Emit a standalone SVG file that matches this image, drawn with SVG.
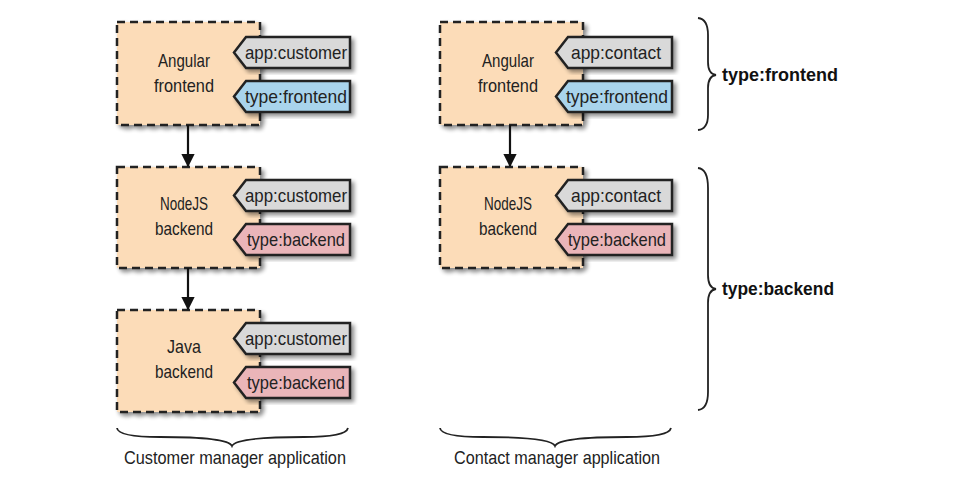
<svg xmlns="http://www.w3.org/2000/svg" width="955" height="487" viewBox="0 0 955 487">
<defs>
<filter id="sh" x="-20%" y="-20%" width="140%" height="140%"><feGaussianBlur in="SourceAlpha" stdDeviation="2"/><feOffset dx="3" dy="3"/><feComponentTransfer><feFuncA type="linear" slope="0.45"/></feComponentTransfer><feMerge><feMergeNode/><feMergeNode in="SourceGraphic"/></feMerge></filter>
<marker id="ar" viewBox="0 0 10 10" refX="9" refY="5" markerWidth="6" markerHeight="6" orient="auto"><path d="M0,0 L10,5 L0,10 Z" fill="#111"/></marker>
<path id="tag" d="M12,0 H116 V31 H12 L0,15.5 Z"/>
</defs>
<style>
.box{fill:#fcdcb8;stroke:#222;stroke-width:2.5;stroke-dasharray:8,5;filter:url(#sh)}
.t{font-family:"Liberation Sans",Arial,sans-serif;font-size:19px;fill:#222;text-anchor:middle}
.tg{font-family:"Liberation Sans",Arial,sans-serif;font-size:19px;fill:#222;text-anchor:middle}
.b{font-family:"Liberation Sans",Arial,sans-serif;font-size:18px;font-weight:bold;fill:#111}
.app{fill:#d9d9d9;stroke:#222;stroke-width:2.5;filter:url(#sh)}
.fe{fill:#a9d4ec;stroke:#222;stroke-width:2.5;filter:url(#sh)}
.be{fill:#eab5b9;stroke:#222;stroke-width:2.5;filter:url(#sh)}
.br{fill:none;stroke:#222;stroke-width:1.8}
</style>
<g id="n1"><rect class="box" x="117" y="22" width="143" height="103"/><text class="t" x="184" y="67" textLength="52" lengthAdjust="spacingAndGlyphs">Angular</text><text class="t" x="184" y="92" textLength="60" lengthAdjust="spacingAndGlyphs">frontend</text>
<use href="#tag" class="app" x="234" y="37"/><text class="tg" x="296" y="59" textLength="102" lengthAdjust="spacingAndGlyphs">app:customer</text>
<use href="#tag" class="fe" x="234" y="81"/><text class="tg" x="296" y="103" textLength="102" lengthAdjust="spacingAndGlyphs">type:frontend</text></g>
<g id="n2"><rect class="box" x="117" y="167" width="143" height="101"/><text class="t" x="184" y="210" textLength="48" lengthAdjust="spacingAndGlyphs">NodeJS</text><text class="t" x="184" y="235" textLength="58" lengthAdjust="spacingAndGlyphs">backend</text>
<use href="#tag" class="app" x="234" y="180"/><text class="tg" x="296" y="202" textLength="102" lengthAdjust="spacingAndGlyphs">app:customer</text>
<use href="#tag" class="be" x="234" y="224"/><text class="tg" x="296" y="246" textLength="98" lengthAdjust="spacingAndGlyphs">type:backend</text></g>
<g id="n3"><rect class="box" x="117" y="310" width="143" height="102"/><text class="t" x="184" y="353" textLength="34" lengthAdjust="spacingAndGlyphs">Java</text><text class="t" x="184" y="378" textLength="58" lengthAdjust="spacingAndGlyphs">backend</text>
<use href="#tag" class="app" x="234" y="323"/><text class="tg" x="296" y="345" textLength="102" lengthAdjust="spacingAndGlyphs">app:customer</text>
<use href="#tag" class="be" x="234" y="367"/><text class="tg" x="296" y="389" textLength="98" lengthAdjust="spacingAndGlyphs">type:backend</text></g>
<g id="n4"><rect class="box" x="440" y="22" width="143" height="103"/><text class="t" x="508" y="67" textLength="52" lengthAdjust="spacingAndGlyphs">Angular</text><text class="t" x="508" y="92" textLength="60" lengthAdjust="spacingAndGlyphs">frontend</text>
<use href="#tag" class="app" x="556" y="37"/><text class="tg" x="616" y="59" textLength="90" lengthAdjust="spacingAndGlyphs">app:contact</text>
<use href="#tag" class="fe" x="556" y="81"/><text class="tg" x="617" y="103" textLength="102" lengthAdjust="spacingAndGlyphs">type:frontend</text></g>
<g id="n5"><rect class="box" x="440" y="167" width="143" height="101"/><text class="t" x="508" y="210" textLength="48" lengthAdjust="spacingAndGlyphs">NodeJS</text><text class="t" x="508" y="235" textLength="58" lengthAdjust="spacingAndGlyphs">backend</text>
<use href="#tag" class="app" x="556" y="180"/><text class="tg" x="616" y="202" textLength="90" lengthAdjust="spacingAndGlyphs">app:contact</text>
<use href="#tag" class="be" x="556" y="224"/><text class="tg" x="617" y="246" textLength="98" lengthAdjust="spacingAndGlyphs">type:backend</text></g>
<g id="connectors" stroke="#111" stroke-width="2.2" fill="none">
<line x1="188" y1="125" x2="188" y2="166" marker-end="url(#ar)"/>
<line x1="188" y1="268" x2="188" y2="309" marker-end="url(#ar)"/>
<line x1="510" y1="125" x2="510" y2="166" marker-end="url(#ar)"/>
</g>
<g id="braces">
<path class="br" d="M117,428 Q118,437 160,437 Q228,437 232,446 Q236,437 304,437 Q346,437 348,428"/>
<path class="br" d="M440,428 Q441,437 483,437 Q551,437 555,446 Q559,437 627,437 Q669,437 671,428"/>
<path class="br" d="M698,18 Q708,19 708,35 V62 Q708,74 716,75 Q708,76 708,88 V115 Q708,129 698,130"/>
<path class="br" d="M698,168 Q708,169 708,188 V275 Q708,288 716,289 Q708,290 708,303 V392 Q708,409 698,410"/>
</g>
<text class="t" x="235" y="464" textLength="222" lengthAdjust="spacingAndGlyphs">Customer manager application</text>
<text class="t" x="557" y="464" textLength="206" lengthAdjust="spacingAndGlyphs">Contact manager application</text>
<text class="b" x="722" y="81" textLength="116" lengthAdjust="spacingAndGlyphs">type:frontend</text>
<text class="b" x="722" y="295" textLength="112" lengthAdjust="spacingAndGlyphs">type:backend</text>
</svg>
